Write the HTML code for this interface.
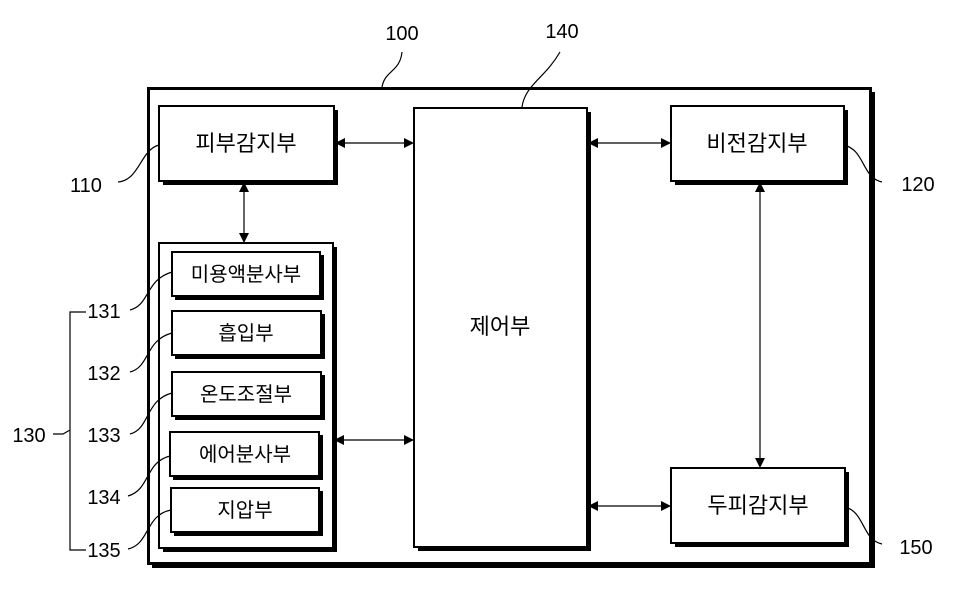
<!DOCTYPE html>
<html><head><meta charset="utf-8"><style>
body{margin:0;background:#fff}
text{font-family:"Liberation Sans","Noto Sans CJK KR",sans-serif;fill:#000}
.k{font-size:22px}
.n{font-size:20px}
</style></head><body>
<svg width="955" height="599" viewBox="0 0 955 599" xmlns="http://www.w3.org/2000/svg">
<defs><marker id="a" markerWidth="10" markerHeight="10" refX="9" refY="5" orient="auto-start-reverse" markerUnits="userSpaceOnUse"><path d="M0,0L10,5L0,10z" fill="#000"/></marker></defs>
<g fill="#000">
<rect x="152" y="92" width="723" height="476"/>
</g>
<rect x="148.5" y="88.5" width="722" height="475" fill="#fff" stroke="#000" stroke-width="3"/>
<g fill="#000">
<rect x="163" y="110" width="175" height="75"/>
<rect x="418" y="112" width="173" height="439"/>
<rect x="675" y="110" width="173" height="75"/>
<rect x="675" y="472" width="174" height="75"/>
<rect x="163" y="247" width="174" height="305"/>
</g>
<g fill="#fff" stroke="#000" stroke-width="2">
<rect x="159" y="106" width="175" height="75"/>
<rect x="414" y="108" width="173" height="439"/>
<rect x="671" y="106" width="173" height="75"/>
<rect x="671" y="468" width="174" height="75"/>
<rect x="159" y="243" width="174" height="305"/>
</g>
<g fill="#000">
<rect x="175" y="255" width="149" height="45"/>
<rect x="175" y="314" width="150" height="45"/>
<rect x="175" y="375" width="150" height="45"/>
<rect x="173" y="435" width="150" height="45"/>
<rect x="174" y="491" width="149" height="45"/>
</g>
<g fill="#fff" stroke="#000" stroke-width="2">
<rect x="172" y="252" width="148" height="44"/>
<rect x="172" y="311" width="149" height="44"/>
<rect x="172" y="372" width="149" height="44"/>
<rect x="170" y="432" width="149" height="44"/>
<rect x="171" y="488" width="148" height="44"/>
</g>
<g stroke="#000" stroke-width="1.2" fill="none" marker-start="url(#a)" marker-end="url(#a)">
<line x1="336" y1="143" x2="413" y2="143"/>
<line x1="589" y1="143" x2="670" y2="143"/>
<line x1="244" y1="183" x2="244" y2="242"/>
<line x1="760" y1="183" x2="760" y2="467"/>
<line x1="335" y1="440" x2="413" y2="440"/>
<line x1="589" y1="506" x2="670" y2="506"/>
</g>
<g stroke="#000" stroke-width="1.2" fill="none">
<path d="M382,87 C385,70 400,72 402,52"/>
<path d="M522,107 C525,85 545,78 560,52"/>
<path d="M118,182 C140,180 140,150 159,145"/>
<path d="M844,145 C865,150 862,178 882,182"/>
<path d="M845,507 C865,512 862,540 882,544"/>
<path d="M130,310 C150,305 145,280 172,272"/>
<path d="M130,372 C150,367 145,340 172,333"/>
<path d="M130,434 C150,429 145,400 172,393"/>
<path d="M128,496 C150,490 145,462 170,456"/>
<path d="M128,549 C150,544 145,515 171,510"/>
<path d="M86,312 H70 V550 H86"/>
<path d="M53,434 H63 L70,430"/>
</g>
<g class="k" text-anchor="middle">
<text x="246" y="151">피부감지부</text>
<text x="757" y="151">비전감지부</text>
<text x="758" y="513">두피감지부</text>
<text x="500" y="334">제어부</text>
<text x="246" y="281" font-size="20">미용액분사부</text>
<text x="246" y="340" font-size="20">흡입부</text>
<text x="246" y="401" font-size="20">온도조절부</text>
<text x="245" y="461" font-size="20">에어분사부</text>
<text x="245" y="517" font-size="20">지압부</text>
</g>
<g class="n" text-anchor="middle">
<text x="402" y="40">100</text>
<text x="562" y="38">140</text>
<text x="86" y="192">110</text>
<text x="918" y="191">120</text>
<text x="916" y="554">150</text>
<text x="29" y="442">130</text>
<text x="104" y="318">131</text>
<text x="104" y="380">132</text>
<text x="104" y="442">133</text>
<text x="104" y="504">134</text>
<text x="104" y="557">135</text>
</g>
</svg>
</body></html>
